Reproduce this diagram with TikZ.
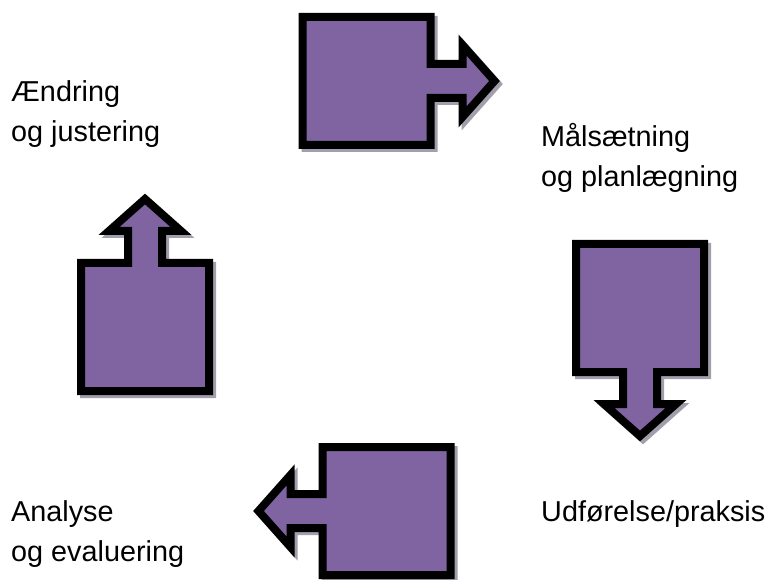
\documentclass[tikz,border=0pt]{standalone}
\usepackage{fontspec}
\setmainfont{Liberation Sans}
\definecolor{arrowpurple}{RGB}{128,100,162}
\definecolor{shadowgray}{RGB}{163,158,172}
\tikzset{
  blockarrow/.pic={
    \path[pic actions] (-64,-64) -- (64,-64) -- (64,-17) -- (96,-17) -- (96,-36)
      -- (128,0) -- (96,36) -- (96,17) -- (64,17) -- (64,64) -- (-64,64) -- cycle;
  },
  arrowbody/.style={fill=arrowpurple, draw=black, line width=8pt, miter limit=10},
  arrowshadow/.style={fill=shadowgray, draw=shadowgray, line width=8pt, miter limit=10},
  label/.style={anchor=base west, inner sep=0pt, align=left,
    font=\fontsize{28.8}{40}\selectfont}
}
\begin{document}
\begin{tikzpicture}[x=1pt,y=1pt]
\useasboundingbox (0,0) rectangle (771,579);
% shadows
\pic[arrowshadow] at (369.5,495) {blockarrow};
\pic[arrowshadow, rotate=-90] at (643,268) {blockarrow};
\pic[arrowshadow, rotate=180] at (389.5,65) {blockarrow};
\pic[arrowshadow, rotate=90] at (148,249) {blockarrow};
% arrows
\pic[arrowbody] (plan) at (366.5,498) {blockarrow};
\pic[arrowbody, rotate=-90] (do) at (640,271) {blockarrow};
\pic[arrowbody, rotate=180] (check) at (386.5,68) {blockarrow};
\pic[arrowbody, rotate=90] (act) at (145,252) {blockarrow};
% labels (base anchor = baseline of the last line)
\node[label] (tAct) at (11,437.3) {Ændring\\og justering};
\node[label] (tPlan) at (541,392) {Målsætning\\og planlægning};
\node[label] (tDo) at (541,57.3) {Udførelse/praksis};
\node[label] (tCheck) at (11,17.3) {Analyse\\og evaluering};
\end{tikzpicture}
\end{document}
